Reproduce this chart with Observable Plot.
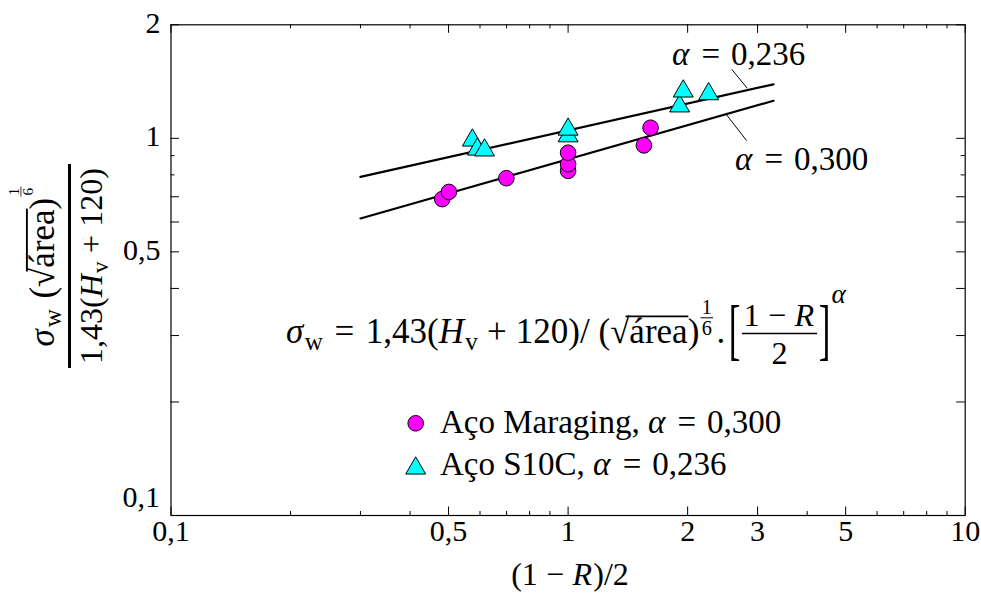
<!DOCTYPE html>
<html>
<head>
<meta charset="utf-8">
<script src="https://cdn.jsdelivr.net/npm/d3@7"></script>
<script src="https://cdn.jsdelivr.net/npm/@observablehq/plot@0.6"></script>
<style>
  html, body { margin: 0; padding: 0; background: #fff; }
  #chart svg { display: block; }
</style>
</head>
<body>
<div id="chart"></div>
<script>
// ---- data -------------------------------------------------------------
// Aço Maraging: (1 - R)/2 versus normalised fatigue limit
const maragingX = [0.482, 0.501, 0.699, 1.0, 1.0, 1.0, 1.552, 1.613];
const maragingY = [0.690, 0.721, 0.784, 0.820, 0.854, 0.916, 0.958, 1.067];

// Aço S10C
const s10cX = [0.574, 0.591, 0.616, 1.0, 1.0, 1.909, 1.950, 2.259];
const s10cY = [0.988, 0.935, 0.930, 1.014, 1.056, 1.217, 1.333, 1.311];

// fitted power laws  y = c · x^alpha
const fitNames = ["S10C", "Maraging"];
const fitAlpha = [0.236, 0.300];
const fitCoef = [1.05, 0.88];
const fitRange = [0.3, 3.29];

// axes
const xTickValues = [0.1, 0.5, 1, 2, 3, 5, 10];
const xTickLabels = ["0,1", "0,5", "1", "2", "3", "5", "10"];
const xMinorValues = [0.2, 0.3, 0.4, 0.6, 0.7, 0.8, 0.9, 4, 6, 7, 8, 9];
const yTickValues = [2, 1, 0.5];
const yTickLabels = ["2", "1", "0,5"];
const yBottomValue = [0.1];
const yBottomLabel = ["0,1"];
const yLongMinor = [0.2, 0.3, 0.4, 0.6, 0.7];
const yShortMinor = [0.8, 0.9];

// ---- tables -----------------------------------------------------------
const maraging = maragingX.map((x, i) => ({x, y: maragingY[i]}));
const s10c = s10cX.map((x, i) => ({x, y: s10cY[i]}));
const fits = fitNames.flatMap((name, k) =>
  fitRange.map(x => ({name, x, y: fitCoef[k] * Math.pow(x, fitAlpha[k])})));

// ---- layout -----------------------------------------------------------
const FONT = "'Liberation Serif', 'Times New Roman', serif";
const W = 981, H = 594;
const mL = 170.5, mR = 16.3, mT = 24.3, mB = 79;
const fw = W - mL - mR, fh = H - mT - mB;
const LONG = 8.5, SHORT = 4;

const plot = Plot.plot({
  width: W,
  height: H,
  marginLeft: mL,
  marginRight: mR,
  marginTop: mT,
  marginBottom: mB,
  style: {fontFamily: FONT, fontSize: "30px", background: "#fff", color: "#000", overflow: "visible"},
  x: {type: "log", domain: [0.1, 10], axis: null},
  y: {type: "log", domain: [0.1, 2], axis: null},
  marks: [
    // inward ticks on all four sides
    Plot.ruleX(xTickValues, {x: d => d, insetBottom: fh - LONG, stroke: "#000"}),
    Plot.ruleX(xTickValues, {x: d => d, insetTop: fh - LONG, stroke: "#000"}),
    Plot.ruleX(xMinorValues, {x: d => d, insetBottom: fh - SHORT, stroke: "#000"}),
    Plot.ruleX(xMinorValues, {x: d => d, insetTop: fh - SHORT, stroke: "#000"}),
    Plot.ruleY([...yTickValues, ...yLongMinor], {y: d => d, insetRight: fw - LONG, stroke: "#000"}),
    Plot.ruleY([...yTickValues, ...yLongMinor], {y: d => d, insetLeft: fw - LONG, stroke: "#000"}),
    Plot.ruleY(yShortMinor, {y: d => d, insetRight: fw - SHORT, stroke: "#000"}),
    Plot.ruleY(yShortMinor, {y: d => d, insetLeft: fw - SHORT, stroke: "#000"}),
    Plot.frame({stroke: "#000", strokeWidth: 1.2}),
    // tick labels
    Plot.text(xTickValues, {x: d => d, frameAnchor: "bottom", dy: 25.5, text: (d, i) => xTickLabels[i]}),
    Plot.text(yTickValues, {y: d => d, frameAnchor: "left", textAnchor: "end", dx: -10.5, dy: -1.5, text: (d, i) => yTickLabels[i]}),
    Plot.text(yBottomValue, {y: d => d, frameAnchor: "left", textAnchor: "end", dx: -11, dy: -18, text: (d, i) => yBottomLabel[i]}),
    // fitted lines
    Plot.line(fits, {x: "x", y: "y", z: "name", stroke: "#000", strokeWidth: 2.2}),
    // measurements
    Plot.dot(maraging, {x: "x", y: "y", r: 7.8, fill: "#ff00ff", stroke: "#000", strokeWidth: 1}),
    Plot.dot(s10c, {x: "x", y: "y", r: 7.4, symbol: "triangle", fill: "#00ffff", stroke: "#000", strokeWidth: 1})
  ]
});
document.getElementById("chart").appendChild(plot);

// ---- typeset helpers for the formulas ----------------------------------
const svg = d3.select(plot);
const over = svg.append("g").attr("fill", "#000").attr("text-anchor", "start");

function txt(g, x, y, s, size, italic) {
  const t = g.append("text")
    .attr("x", x).attr("y", y)
    .attr("text-anchor", "start")
    .attr("font-family", FONT)
    .attr("font-size", size)
    .text(s);
  if (italic) t.attr("font-style", "italic");
  return t;
}
const len = t => t.node().getComputedTextLength();

// lays out a list of pieces on one baseline, returns the end x
function run(g, x, y, size, items) {
  let cx = x;
  for (const it of items) {
    if (typeof it === "string") {
      cx += len(txt(g, cx, y, it, size, false));
    } else if (it.i != null) {
      cx += len(txt(g, cx, y, it.i, size, true)) + (it.after || 0.04) * size;
    } else if (it.sp != null) {
      cx += it.sp * size;
    } else if (it.sub != null) {
      cx += len(txt(g, cx, y + 0.2 * size, it.sub, size * 0.72, false));
    } else if (it.sqrt) {
      const r = txt(g, cx, y, "√", size, false);
      const w = len(r);
      const x0 = cx + w * 0.8;
      cx = run(g, cx + w, y, size, it.sqrt);
      g.append("line")
        .attr("x1", x0).attr("x2", cx + 0.02 * size)
        .attr("y1", y - 0.76 * size).attr("y2", y - 0.76 * size)
        .attr("stroke", "#000").attr("stroke-width", 0.055 * size);
    } else if (it.frac) {
      const s = size * (it.scale || 1);
      const axis = y - (it.raise != null ? it.raise : 0.27) * size;
      const gn = g.append("g"), gd = g.append("g");
      const wn = run(gn, 0, 0, s, it.frac[0]);
      const wd = run(gd, 0, 0, s, it.frac[1]);
      const pad = (it.pad != null ? it.pad : 0.12) * s;
      const w = Math.max(wn, wd) + 2 * pad;
      gn.attr("transform", `translate(${cx + (w - wn) / 2},${axis - (it.nb != null ? it.nb : 0.22) * s})`);
      gd.attr("transform", `translate(${cx + (w - wd) / 2},${axis + (it.db != null ? it.db : 0.9) * s})`);
      g.append("line")
        .attr("x1", cx + pad * 0.5).attr("x2", cx + w - pad * 0.5)
        .attr("y1", axis).attr("y2", axis)
        .attr("stroke", "#000").attr("stroke-width", (it.bar || 0.05) * s);
      cx += w;
    } else if (it.big) {
      // tall thin delimiter: the glyph stretched vertically about the math axis
      const axis = y - 0.27 * size;
      const t = txt(g, 0, 0, it.big, size, false);
      const w = len(t);
      t.attr("x", null).attr("y", null)
        .attr("transform", `translate(${cx},${axis}) scale(1,${it.k}) translate(0,${0.27 * size})`);
      cx += w;
    } else if (it.sup) {
      const s = size * (it.scale || 0.7);
      cx = run(g, cx, y - it.raise * size, s, it.sup);
    }
  }
  return cx;
}

// place a formula with its start at (x, y)
function formula(x, y, size, items) {
  const g = over.append("g");
  run(g, x, y, size, items);
  return g;
}
// place a formula centred on x
function centred(x, y, size, items) {
  const g = over.append("g");
  const w = run(g, 0, y, size, items);
  g.attr("transform", `translate(${x - w / 2},0)`);
  return g;
}

const eq = [{sp: 0.33}, "=", {sp: 0.33}];
const minus = [{sp: 0.26}, "−", {sp: 0.26}];
const plus = [{sp: 0.26}, "+", {sp: 0.26}];

// x-axis title
centred(570, 585, 32, ["(1", ...minus, {i: "R"}, ")/2"]);

// line annotations with leaders
formula(672, 65, 33, [{i: "α"}, ...eq, "0,236"]);
formula(735, 170, 33, [{i: "α"}, ...eq, "0,300"]);
over.append("line").attr("x1", 731.7).attr("y1", 69.3).attr("x2", 747.3).attr("y2", 88.3)
  .attr("stroke", "#000").attr("stroke-width", 1);
over.append("line").attr("x1", 726.7).attr("y1", 115).attr("x2", 746.7).attr("y2", 140.7)
  .attr("stroke", "#000").attr("stroke-width", 1);

// governing equation
formula(286, 343, 35, [
  {i: "σ"}, {sub: "w"}, ...eq, "1,43(", {i: "H"}, {sub: "v"}, ...plus, "120)/ (",
  {sqrt: ["área"]}, ")",
  {frac: [["1"], ["6"]], scale: 0.58, raise: 0.72, nb: 0.2, db: 0.85, pad: 0.12},
  {sp: 0.06}, ".",
  {sp: 0.1},
  {big: "[", k: 1.95},
  {frac: [["1", ...minus, {i: "R"}], ["2"]], scale: 0.92, pad: 0.1, bar: 0.045, nb: 0.25, db: 0.95},
  {big: "]", k: 1.95},
  {sp: 0.03},
  {sup: [{i: "α"}], raise: 1.15, scale: 0.78}
]);

// legend
const legend = over.append("g");
legend.append("circle").attr("cx", 415.7).attr("cy", 423.3).attr("r", 7.8)
  .attr("fill", "#ff00ff").attr("stroke", "#000");
legend.append("path").attr("transform", "translate(415.7,468.3)")
  .attr("d", d3.symbol(d3.symbolTriangle, Math.PI * 7.4 * 7.4)())
  .attr("fill", "#00ffff").attr("stroke", "#000");
formula(440, 433.3, 33, ["Aço Maraging, ", {i: "α"}, ...eq, "0,300"]);
formula(440, 475, 33, ["Aço S10C, ", {i: "α"}, ...eq, "0,236"]);

// y-axis title: rotated stacked fraction
const yt = over.append("g").attr("transform", "translate(69.5,266) rotate(-90)");
const ytn = yt.append("g"), ytd = yt.append("g");
const nw = run(ytn, 0, 0, 35, [
  {i: "σ", after: 0.06}, {sub: "w"}, {sp: 0.3}, "(", {sqrt: ["área"]}, ")",
  {frac: [["1"], ["6"]], scale: 0.44, raise: 0.93, nb: 0.15, db: 0.8, pad: 0.15}
]);
const dw = run(ytd, 0, 0, 32, ["1,43(", {i: "H"}, {sub: "v"}, ...plus, "120)"]);
ytn.attr("transform", `translate(${-nw / 2},-16)`);
ytd.attr("transform", `translate(${-dw / 2},32)`);
const bw = Math.max(nw, dw) + 8;
yt.append("line").attr("x1", -bw / 2).attr("x2", bw / 2).attr("y1", 0).attr("y2", 0)
  .attr("stroke", "#000").attr("stroke-width", 3);
</script>
</body>
</html>
